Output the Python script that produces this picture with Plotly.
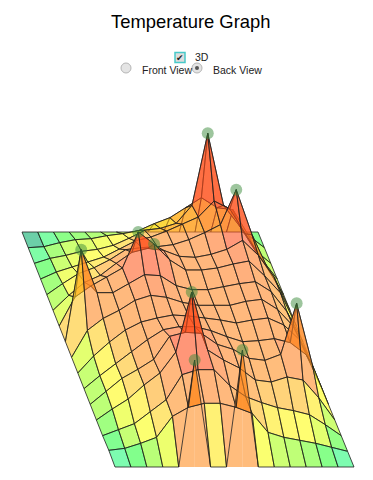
import plotly.graph_objects as go

# Surface heights: one row per grid row (back to front), one column per grid column (left to right)
row_00 = [0, 0, 0, 0, 0, 0, 0, 0, 0, 0, 0, 0, 0, 0, 0, 0]
row_01 = [0, 1, 5, 8, 9, 12, 14, 17, 24, 30, 40, 50, 40, 38, 12, 0]
row_02 = [0, 5, 8, 12, 14, 18, 25, 33, 35, 40, 58, 130, 58, 38, 13, 0]
row_03 = [0, 7, 12, 17, 22, 30, 38, 42, 48, 55, 62, 78, 70, 45, 20, 0]
row_04 = [0, 11, 21, 27, 35, 45, 47, 48, 50, 55, 62, 70, 105, 60, 26, 0]
row_05 = [0, 15, 28, 35, 47, 58, 62, 60, 54, 53, 56, 61, 70, 55, 33, 0]
row_06 = [0, 29, 40, 49, 58, 94, 82, 66, 56, 56, 58, 62, 65, 50, 33, 0]
row_07 = [0, 92, 49, 49, 58, 67, 66, 56, 52, 52, 55, 58, 60, 50, 30, 0]
row_08 = [0, 27, 39, 47, 57, 62, 60, 55, 52, 52, 52, 56, 58, 48, 31, 0]
row_09 = [0, 17, 31, 43, 51, 55, 58, 57, 55, 53, 50, 53, 55, 48, 33, 0]
row_10 = [0, 13, 25, 37, 49, 59, 62, 62, 58, 52, 47, 48, 50, 46, 34, 0]
row_11 = [0, 13, 26, 35, 45, 68, 72, 71, 60, 55, 46, 44, 50, 101, 39, 0]
row_12 = [0, 11, 21, 35, 47, 68, 128, 70, 60, 52, 40, 38, 43, 40, 22, 0]
row_13 = [0, 6, 12, 24, 36, 61, 66, 66, 50, 39, 33, 28, 25, 21, 11, 0]
row_14 = [1, 3, 8, 14, 35, 44, 48, 48, 44, 38, 19, 14, 11, 8, 4, 0]
row_15 = [0, 0, 0, 0, 0, 107, 0, 0, 117, 0, 0, 0, 0, 0, 0, 0]
rows = [row_00, row_01, row_02, row_03, row_04, row_05, row_06, row_07,
        row_08, row_09, row_10, row_11, row_12, row_13, row_14, row_15]

# Grid nodes carrying a marker, as (row, column)
peaks = [(2, 11), (4, 12), (6, 5), (6, 6), (7, 1), (12, 6), (11, 13), (15, 5), (15, 8)]

# Height -> colour stops
stop_heights = [0, 1, 2.75, 5.5, 12, 15, 22, 30, 42, 58, 72, 90, 130]
stop_colors = [(0, 150, 105), (38, 250, 123), (47, 255, 63), (138, 255, 30), (222, 255, 13),
               (255, 255, 17), (255, 243, 22), (255, 197, 33), (255, 147, 37), (255, 133, 38),
               (255, 88, 38), (255, 72, 22), (255, 13, 0)]

title_text = "Temperature Graph"
check_label = "3D"
radio_labels = ["Front View", "Back View"]


def project(col, row, height):
    """Oblique projection of a grid node on the page."""
    fx = col / 15
    fy = row / 15
    left = 22 + 93 * fy
    right = 258 + 96 * fy
    return left + (right - left) * fx, 232 + 235 * fy - height


def color_of(v):
    for k in range(len(stop_heights) - 1):
        a, b = stop_heights[k], stop_heights[k + 1]
        if v <= b:
            t = max(0, (v - a) / (b - a))
            c0, c1 = stop_colors[k], stop_colors[k + 1]
            c = [round(c0[n] + (c1[n] - c0[n]) * t) for n in range(3)]
            return f"rgba({c[0]},{c[1]},{c[2]},0.6)"
    c = stop_colors[-1]
    return f"rgba({c[0]},{c[1]},{c[2]},0.6)"


fig = go.Figure()

# Front wall under the spikes of the last row
front = rows[15]
for i in range(15):
    if front[i] or front[i + 1]:
        pts = [project(i, 15, front[i]), project(i + 1, 15, front[i + 1]),
               project(i + 1, 15, 0), project(i, 15, 0), project(i, 15, front[i])]
        fig.add_trace(go.Scatter(
            x=[p[0] for p in pts], y=[p[1] for p in pts], mode="lines", fill="toself",
            fillcolor=color_of(45), line=dict(width=0), hoverinfo="skip", showlegend=False))

for j in range(15):
    for i in range(15):
        corners = [(i, j), (i + 1, j), (i + 1, j + 1), (i, j + 1), (i, j)]
        pts = [project(a, b, rows[b][a]) for a, b in corners]
        avg = sum(rows[b][a] for a, b in corners[:4]) / 4
        fig.add_trace(go.Scatter(
            x=[p[0] for p in pts], y=[p[1] for p in pts], mode="lines", fill="toself",
            fillcolor=color_of(avg), line=dict(color="rgba(30,30,30,0.8)", width=1),
            hoverinfo="skip", showlegend=False))

peak_pts = [project(c, r, rows[r][c]) for r, c in peaks]
fig.add_trace(go.Scatter(
    x=[p[0] for p in peak_pts], y=[p[1] for p in peak_pts], mode="markers",
    marker=dict(size=12, color="rgba(60,140,60,0.5)", line=dict(width=0)),
    hoverinfo="skip", showlegend=False))

# Controls
fig.add_trace(go.Scatter(
    x=[180], y=[57.5], mode="markers",
    marker=dict(symbol="square", size=10, color="#dddddd", line=dict(color="#48c9c9", width=1.5)),
    hoverinfo="skip", showlegend=False))
fig.add_trace(go.Scatter(
    x=[126, 197], y=[68, 68], mode="markers",
    marker=dict(size=10, color="#e4e4e4", line=dict(color="#b5b5b5", width=1)),
    hoverinfo="skip", showlegend=False))
fig.add_trace(go.Scatter(
    x=[197], y=[68], mode="markers",
    marker=dict(size=4, color="#555555"), hoverinfo="skip", showlegend=False))

fig.add_annotation(x=190.5, y=21, text=title_text, showarrow=False, xref="x", yref="y",
                   font=dict(family="Liberation Sans", size=18.4, color="#000000"))
fig.add_annotation(x=180, y=57.5, text="✔", showarrow=False, xref="x", yref="y",
                   font=dict(family="DejaVu Sans", size=9, color="#222222"))
fig.add_annotation(x=193, y=57, text=check_label, showarrow=False, xanchor="left", xref="x", yref="y",
                   font=dict(family="Liberation Sans", size=10.5, color="#222222"))
fig.add_annotation(x=139.5, y=70, text=radio_labels[0], showarrow=False, xanchor="left", xref="x", yref="y",
                   font=dict(family="Liberation Sans", size=10.5, color="#222222"))
fig.add_annotation(x=210.5, y=70, text=radio_labels[1], showarrow=False, xanchor="left", xref="x", yref="y",
                   font=dict(family="Liberation Sans", size=10.5, color="#222222"))

fig.update_layout(
    width=373, height=480, autosize=False, margin=dict(l=0, r=0, t=0, b=0),
    paper_bgcolor="white", plot_bgcolor="white", showlegend=False,
    xaxis=dict(range=[0, 373], visible=False, fixedrange=True),
    yaxis=dict(range=[480, 0], visible=False, fixedrange=True),
)
fig.write_html("out.html", config=dict(displayModeBar=False),
               post_script="document.body.style.margin='0';document.body.style.overflow='hidden';")
